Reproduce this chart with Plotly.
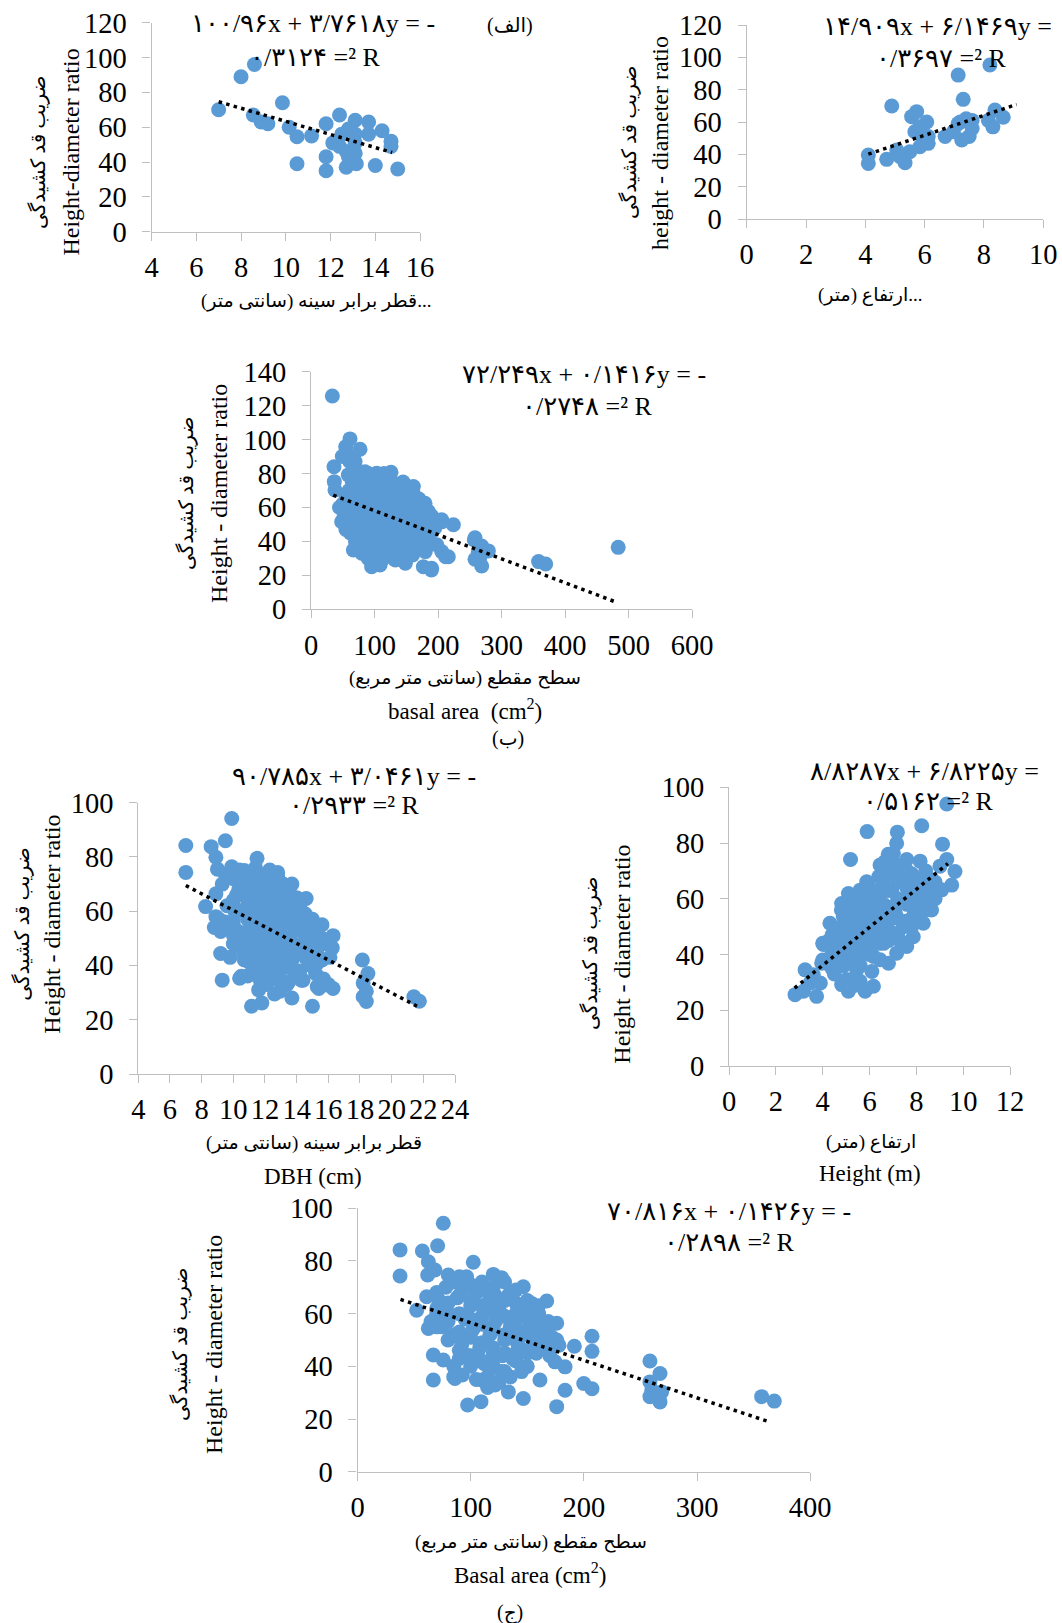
import plotly.graph_objects as go

W, H = 1062, 1623
FONT = "Liberation Serif, DejaVu Sans"
TICKFONT = "Liberation Serif"
BLUE = "#5B9BD5"
AXC = "#bfbfbf"

# ---------------- data ----------------
# (الف) DBH vs ratio
x1 = [7.0, 8.0, 8.6, 8.55, 8.9, 9.2, 9.85, 10.15, 10.5, 10.5,
      11.15, 11.8, 11.8, 11.8, 12.4, 12.1, 12.4, 12.7, 12.7, 13.1,
      13.1, 13.1, 13.15, 12.8, 13.7, 13.7, 14.0, 14.3, 14.7, 14.7,
      15.0, 12.8, 13.1, 12.5]
y1 = [70, 89, 96, 67, 63, 62, 74, 60, 54.5, 39,
      55, 62, 43, 35, 67, 51, 49, 46, 37, 64,
      56, 51, 39, 59, 63, 56, 38, 58, 52, 49,
      36, 43, 45, 56]
# (الف) height vs ratio
x2 = [4.1, 4.1, 4.72, 4.89, 5.06, 5.17, 5.34, 5.5, 5.56, 5.73,
      5.67, 5.84, 5.84, 6.07, 6.12, 6.12, 5.96, 6.69, 7.13, 7.3,
      7.2, 7.25, 7.4, 7.5, 7.6, 7.6, 8.2, 8.15, 8.3, 8.37,
      8.65, 6.97, 7.13]
y2 = [39.6, 34.4, 36.9, 69.9, 42.7, 38.6, 34.8, 41.6, 63.3, 66.4,
      54, 44.7, 57, 60, 51, 46.8, 48.9, 51, 89, 74,
      60, 48.9, 62, 51, 56, 61, 95.3, 61, 57, 67.4,
      62.9, 54, 59]
# (ب) basal area vs ratio: outer points
x3 = [33.6, 61.4, 54.6, 77.2, 49.3, 69.3, 36.2, 36.7, 37.8, 61.4,
      58.8, 48.3, 66.7, 95.5, 108.7, 103.4, 126, 161.2, 179.5, 184.8,
      205.8, 224.2, 190, 216.2, 205.8, 190, 176.9, 148.6, 132.9, 258.3,
      268.8, 258.3, 268.8, 279.3, 263.5, 66.7, 358.4, 369.6, 483.8, 257.2,
      265.6, 212.1, 189.6, 206.5,
      50, 55, 60, 62, 65, 68, 70, 72, 75, 78,
      80, 82, 85, 88, 90, 92, 95, 97, 100, 102,
      105, 108, 110, 112, 115, 118, 120, 122, 125, 128,
      130, 132, 135, 138, 140, 142, 145, 148, 150, 152,
      155, 158, 160, 162, 165, 168, 170, 172, 175, 178,
      180, 183, 186, 190, 195, 198, 90, 110, 130, 150,
      160, 75, 90, 145, 60, 70, 100, 160, 120, 140,
      55, 45]
y3 = [125.7, 100.4, 95.8, 94.3, 90, 87, 84, 75.2, 70.3, 87,
      79.2, 51.6, 34.9, 25.1, 26.1, 80.1, 80.7, 72.3, 62.5, 57.6,
      52.7, 49.8, 45.8, 31, 34, 24.2, 25.1, 27.1, 29.1, 42.2,
      37.3, 29.5, 25.5, 34.4, 33.4, 90, 28.1, 26.7, 36.5, 40.8,
      30, 31, 23.2, 51.6,
      62, 52, 70, 45, 58, 75, 40, 64, 50, 68,
      35, 58, 72, 44, 62, 52, 77, 38, 66, 56,
      46, 72, 60, 33, 50, 68, 42, 57, 75, 48,
      63, 36, 54, 70, 44, 60, 50, 67, 38, 56,
      46, 63, 52, 41, 58, 48, 65, 36, 54, 44,
      60, 50, 40, 55, 48, 38, 30, 28, 30, 30,
      34, 80, 80, 75, 88, 82, 73, 70, 35, 32,
      67, 60]
# (ب) dense core of the cloud
x3b = [80, 100, 120, 140, 160, 180,
       82, 95, 110, 125, 140, 155, 170, 185,
       55, 70, 85, 100, 115, 130, 145, 160, 175, 190,
       52, 65, 80, 95, 110, 125, 140, 155, 170, 185,
       55, 70, 85, 100, 115, 130, 145, 160, 175,
       60, 75, 90, 105, 120, 135, 150, 165,
       65, 80, 95, 110, 125, 140,
       70, 85, 115]
y3b = [33, 32, 34, 33, 32, 34,
       40, 41, 39, 40, 41, 39, 40, 41,
       47, 48, 46, 47, 48, 46, 47, 48, 47, 46,
       54, 55, 53, 54, 55, 53, 54, 55, 54, 53,
       61, 62, 60, 61, 62, 60, 61, 62, 60,
       68, 69, 67, 68, 69, 67, 68, 66,
       75, 76, 74, 75, 76, 74,
       82, 81, 80]
# (ج) DBH vs ratio: outer points
x4 = [7.0, 7.0, 8.6, 8.9, 9.5, 9.9, 8.25, 8.9, 8.9, 8.8,
      9.2, 9.8, 9.3, 10.4, 10.9, 11.15, 11.8, 11.5, 12.3, 12.8,
      13.7, 14.6, 15.0, 16.3, 16.25, 16.3, 15.0, 13.7, 12.95, 14.3,
      15.4, 18.15, 18.5, 18.2, 18.2, 18.4, 18.4, 21.4, 21.75, 9.0,
      9.5, 9.9, 10.4, 11.05, 10.85, 11.9, 10.85, 10.6, 9.8, 10.0,
      9.3, 9.6, 9.5, 10.2, 10.1, 10.2, 10.3, 10.6, 10.8, 10.9,
      11.0, 11.2, 11.2, 11.4, 11.5, 11.6, 11.7, 11.8, 11.9, 12.0,
      12.1, 12.2, 12.3, 12.4, 12.5, 12.6, 12.7, 12.8, 12.9, 13.0,
      13.1, 13.2, 13.3, 13.4, 13.5, 13.6, 13.7, 13.8, 13.9, 14.0,
      14.1, 14.2, 14.3, 14.4, 14.6, 14.8, 14.9, 15.0, 15.2, 15.3,
      15.5, 15.7, 15.8, 16.0, 16.1, 11.3, 12.2, 12.9, 13.5, 11.7,
      12.3, 14.4, 15.3, 15.9, 15.3, 14.8, 14.95, 10.5, 11.6, 12.6,
      13.3, 12.0, 11.1, 10.7, 13.1, 12.4, 14.0, 11.4, 10.5, 9.2,
      9.1]
y4 = [84.2, 74.3, 83.8, 79.9, 86, 94.2, 61.7, 66.4, 58, 54,
      44.4, 43, 34.6, 35.3, 36.1, 25, 26.2, 79.5, 75.2, 74.3,
      70, 64.7, 57, 51, 46.5, 31.5, 25, 28, 30.5, 34.6,
      31.5, 42, 37, 33.5, 28.5, 26.7, 30.5, 28.5, 26.8, 75.5,
      73.5, 76.4, 75.2, 74, 70.3, 72, 64.7, 60.4, 55.5, 51.2,
      70, 62, 56, 66, 60, 53, 47, 52, 47, 57,
      62, 44, 67, 50, 55, 40, 60, 64, 46, 70,
      52, 36, 57, 42, 62, 48, 66, 54, 38, 60,
      45, 68, 50, 33, 56, 63, 42, 48, 58, 38,
      53, 61, 46, 56, 50, 41, 54, 47, 37, 44,
      50, 35, 48, 33, 43, 72, 73, 71, 67, 34.6,
      34.6, 34.6, 32.2, 32.8, 40.8, 40.8, 54.3, 36, 31, 29.5,
      40, 44, 49, 42, 62, 67, 65, 58, 70, 52.5,
      57]
# (ج) DBH vs ratio: dense core
x4b = [10.0, 10.0, 10.0, 10.0,
       10.7, 10.7, 10.7, 10.7, 10.7,
       11.4, 11.4, 11.4, 11.4, 11.4, 11.4,
       12.1, 12.1, 12.1, 12.1, 12.1, 12.1,
       12.8, 12.8, 12.8, 12.8, 12.8, 12.8,
       13.5, 13.5, 13.5, 13.5, 13.5,
       14.2, 14.2, 14.2, 14.2,
       14.9, 14.9, 14.9,
       15.6, 15.6, 15.6,
       10.35, 10.35, 10.35,
       11.05, 11.05, 11.05, 11.05, 11.05,
       11.75, 11.75, 11.75, 11.75, 11.75, 11.75,
       12.45, 12.45, 12.45, 12.45, 12.45,
       13.15, 13.15, 13.15, 13.15, 13.15,
       13.85, 13.85, 13.85, 13.85,
       14.55, 14.55, 14.55,
       15.25, 15.25]
y4b = [48, 56, 64, 72,
       44, 52, 60, 68, 75,
       38, 46, 54, 62, 70, 76,
       33, 40, 48, 56, 64, 72,
       35, 43, 51, 59, 67, 73,
       34, 42, 50, 58, 65,
       38, 46, 54, 62,
       40, 48, 56,
       42, 50, 55,
       52, 60, 68,
       41, 49, 57, 65, 72,
       35, 43, 51, 59, 67, 73,
       37, 45, 53, 61, 69,
       39, 47, 55, 63, 70,
       38, 46, 54, 61,
       43, 51, 59,
       45, 53]
# (ج) height vs ratio: outer points
x5 = [9.3, 5.9, 7.19, 8.23, 9.12, 5.19, 7.16, 7.02, 6.66, 6.45,
      7.59, 8.16, 9.3, 9.65, 9.51, 9.08, 8.3, 7.59, 6.81, 6.1,
      6.17, 5.81, 5.1, 4.81, 3.74, 2.82, 3.18, 3.25, 4.03, 4.24,
      3.6, 3.96, 4.31, 4.74, 5.1, 5.38, 5.88, 5.6, 6.09, 6.45,
      5.95, 5.38, 4.88, 4.67, 5.17, 5.6, 5.45, 5.03, 5.6, 6.45,
      7.02, 6.88, 7.3, 7.73, 8.01, 8.44, 8.65, 7.87, 7.45, 7.3,
      7.8, 8.44, 6.59, 6.95, 6.45, 6.17, 5.81, 5.03, 4.81, 6.45,
      7.16, 7.87, 8.87, 8.51, 9.01, 4.31, 4.6, 6.17, 4.46, 3.9,
      3.46, 5.3, 5.6, 6.0, 6.3, 6.6, 6.8, 7.1, 7.3, 7.6,
      7.9, 8.1, 6.9, 7.5, 6.2, 5.8, 5.5, 4.9, 5.2, 5.9,
      6.6, 7.8, 8.6, 4.5, 5.4]
y5 = [94, 84.1, 83.9, 86.2, 79.6, 74.1, 79.9, 76.3, 73.3, 72.1,
      74.1, 73.5, 74.1, 69.8, 64.9, 63.2, 51.2, 42.9, 36.9, 33.9,
      28.6, 26.8, 26.8, 29.2, 25, 25.6, 26.8, 34.5, 43.6, 44.8,
      32.7, 36.9, 36.3, 41.9, 61.9, 57.2, 66.1, 63.1, 59, 56,
      48.8, 51.2, 53.6, 46.4, 44, 41.6, 34.5, 31, 30.4, 46.4,
      47.6, 53.6, 59.5, 63.1, 58.3, 59.5, 56, 53.6, 50, 67.8,
      69, 67.8, 65.5, 63.1, 63.1, 52.4, 53.6, 48.8, 58.3, 38.1,
      40.5, 46.4, 63.1, 64.3, 71.7, 51.2, 48.8, 39.3, 39.3, 29.8,
      29.8, 55, 47, 56, 50, 58, 49, 55, 45, 60,
      56, 62, 69, 66, 62, 60, 38, 36, 40, 43,
      44, 50, 67, 33, 29]
# (ج) height vs ratio: dense core
x5b = [4.0, 4.0,
       4.4, 4.4, 4.4,
       4.8, 4.8, 4.8, 4.8,
       5.2, 5.2, 5.2, 5.2, 5.2,
       5.6, 5.6, 5.6, 5.6, 5.6,
       6.0, 6.0, 6.0, 6.0, 6.0,
       6.4, 6.4, 6.4, 6.4, 6.4,
       6.8, 6.8, 6.8, 6.8, 6.8, 6.8,
       7.2, 7.2, 7.2, 7.2, 7.2,
       7.6, 7.6, 7.6, 7.6,
       8.0, 8.0, 8.0,
       8.4, 8.4, 8.4,
       8.8, 8.8]
y5b = [38, 44,
       35, 41, 47,
       38, 44, 50, 56,
       37, 43, 49, 55, 60,
       36, 44, 50, 56, 62,
       40, 46, 52, 58, 64,
       44, 50, 55, 61, 68,
       45, 52, 57, 63, 70, 76,
       47, 53, 60, 66, 72,
       52, 58, 64, 70,
       55, 61, 67,
       56, 63, 70,
       60, 66]
# (ج) basal area vs ratio: outer points
x6 = [75.8, 37.6, 37.6, 57.3, 70.8, 62.6, 62, 68.4, 80.2, 102.3,
      96.4, 120, 127.4, 146.5, 167.2, 52.3, 61.1, 62.6, 67, 75.8,
      67, 86.1, 92.6, 97.3, 109.1, 109.7, 121.5, 133.3, 145, 146.5,
      161.2, 174.5, 183.4, 183.4, 191.6, 199.9, 207.2, 207.2, 207.2, 176,
      146.5, 161.2, 168.6, 176, 176, 153.9, 133.3, 121.5, 112.7, 92,
      258.4, 267.3, 258.4, 258.4, 267.3, 260, 268.7, 357.1, 368.3,
      80, 85, 88, 92, 95, 98, 100, 102, 105, 108,
      110, 112, 115, 117, 120, 122, 125, 127, 130, 132,
      135, 137, 140, 142, 145, 148, 150, 152, 155, 158,
      160, 163, 165, 168, 170, 172, 178, 75, 70, 65,
      72, 78, 85, 95, 110, 118, 105, 115, 125, 135,
      140, 128, 100, 90]
y6 = [94.3, 84.2, 74.3, 83.8, 85.8, 79.7, 74.7, 76.6, 74.7, 79.5,
      74, 74.9, 73.6, 70.2, 64.8, 61.3, 66.4, 54.4, 44.3, 42.4,
      34.8, 35.4, 36.7, 25.3, 26.6, 34.8, 32.9, 30.3, 38, 27.8,
      34.8, 41.7, 39.8, 30.9, 47.6, 33.5, 51.4, 45.7, 31.5, 24.7,
      46.2, 46.8, 57, 56.4, 50, 63.9, 67, 67, 69.6, 70.8,
      42, 37.3, 34.1, 28.5, 26.5, 31, 30.3, 28.5, 26.8,
      60, 52, 66, 48, 58, 44, 63, 54, 68, 47,
      59, 41, 64, 52, 45, 57, 62, 38, 50, 66,
      55, 43, 60, 48, 53, 63, 40, 57, 50, 45,
      55, 52, 48, 53, 44, 51, 48, 55, 60, 57,
      65, 70, 72, 70, 72, 68, 35, 36, 34, 36,
      42, 44, 40, 43]
# (ج) basal area vs ratio: dense core
x6b = [70, 70, 70,
       80, 80, 80,
       90, 90, 90, 90, 90,
       100, 100, 100, 100, 100,
       110, 110, 110, 110, 110,
       120, 120, 120, 120, 120,
       130, 130, 130, 130, 130, 130,
       140, 140, 140, 140, 140,
       150, 150, 150, 150,
       160, 160, 160, 160,
       170, 170,
       85, 85,
       115]
y6b = [55, 62, 68,
       50, 57, 64,
       46, 53, 60, 67, 74,
       44, 51, 58, 65, 71,
       42, 49, 56, 63, 69,
       40, 47, 54, 61, 70,
       38, 45, 52, 59, 65, 72,
       45, 50, 57, 64, 69,
       45, 52, 59, 65,
       47, 54, 60, 63,
       49, 56,
       40, 36,
       32]

# trendline coefficients (slope, intercept) and x extent
coef = [(-3.7618, 100.96), (6.1469, 14.909), (-0.1416, 72.249),
        (-3.0461, 90.785), (6.8225, 8.8287), (-0.1426, 70.816)]
trend_span = [(7.0, 14.75), (4.1, 9.1), (35, 478), (7.0, 21.6), (2.8, 9.35), (38, 363)]

eq_line1 = ["۱۰۰/۹۶x + ۳/۷۶۱۸y = -", "۱۴/۹۰۹x + ۶/۱۴۶۹y =", "۷۲/۲۴۹x + ۰/۱۴۱۶y = -",
            "۹۰/۷۸۵x + ۳/۰۴۶۱y = -", "۸/۸۲۸۷x + ۶/۸۲۲۵y =", "۷۰/۸۱۶x + ۰/۱۴۲۶y = -"]
eq_line2 = ["۰/۳۱۲۴ =² R", "۰/۳۶۹۷ =² R", "۰/۲۷۴۸ =² R",
            "۰/۲۹۳۳ =² R", "۰/۵۱۶۲ =² R", "۰/۲۸۹۸ =² R"]
ytitle_fa = "ضریب قد کشیدگی"
ytitle_en = ["Height-diameter ratio", "height - diameter ratio", "Height - diameter ratio",
             "Height - diameter ratio", "Height - diameter ratio", "Height - diameter ratio"]
xtitle_fa = ["قطر برابر سینه (سانتی متر)...", "ارتفاع (متر)...", "سطح مقطع (سانتی متر مربع)",
             "قطر برابر سینه (سانتی متر)", "ارتفاع (متر)", "سطح مقطع (سانتی متر مربع)"]
xtitle_en = [None, None, "basal area  (cm<sup>2</sup>)", "DBH (cm)", "Height (m)", "Basal area (cm<sup>2</sup>)"]
panel_tags = ["(الف)", "(ب)", "(ج)"]

xs = [x1, x2, x3 + x3b, x4 + x4b, x5 + x5b, x6 + x6b]
ys = [y1, y2, y3 + y3b, y4 + y4b, y5 + y5b, y6 + y6b]

# ---------------- layout (pixels) ----------------
panels = [
    dict(xr=[4, 16], yr=[0, 120], dx=2, dy=20, px=(151.5, 420.1), py=(22.7, 231.7),
         eq1=(313, 23.5), eq2=(315, 57), xt=(316, 301), xte=None, yfa=37.9, yen=70.6, yc=152),
    dict(xr=[0, 10], yr=[0, 120], dx=2, dy=20, px=(746.7, 1043.3), py=(25, 219),
         eq1=(937, 27), eq2=(941, 59), xt=(870, 295), xte=None, yfa=630, yen=660, yc=143),
    dict(xr=[0, 600], yr=[0, 140], dx=100, dy=20, px=(311, 692), py=(371.7, 609.3),
         eq1=(584, 374), eq2=(587, 406), xt=(464.5, 678), xte=(464.5, 709), yfa=187, yen=219, yc=494),
    dict(xr=[4, 24], yr=[0, 100], dx=2, dy=20, px=(138.3, 455), py=(802.7, 1074),
         eq1=(354, 776), eq2=(354, 806), xt=(314, 1143), xte=(313, 1176), yfa=21.7, yen=51.7, yc=924),
    dict(xr=[0, 12], yr=[0, 100], dx=2, dy=20, px=(729, 1010), py=(787.3, 1066),
         eq1=(924, 771.5), eq2=(928, 802), xt=(871, 1142), xte=(869.5, 1173), yfa=590, yen=621.7, yc=954),
    dict(xr=[0, 400], yr=[0, 100], dx=100, dy=20, px=(357.5, 810.2), py=(1208.3, 1471.7),
         eq1=(728.5, 1211), eq2=(729.5, 1242.5), xt=(531, 1542), xte=(530, 1573), yfa=180, yen=214, yc=1345),
]
tag_pos = [(510, 25), (508, 738), (510, 1612)]


def px2x(v):
    return v / W


def px2y(v):
    return 1 - v / H


fig = go.Figure()
layout = dict(width=W, height=H, margin=dict(l=0, r=0, t=0, b=0, pad=0, autoexpand=False),
              paper_bgcolor="white", plot_bgcolor="white", showlegend=False,
              font=dict(family=FONT, color="black"))
annotations = []


def ann(text, pos, size, angle=0):
    annotations.append(dict(text=text, x=px2x(pos[0]), y=px2y(pos[1]), xref="paper",
                            yref="paper", xanchor="center", yanchor="middle",
                            showarrow=False, textangle=angle,
                            font=dict(family=FONT, size=size, color="black")))


for i, p in enumerate(panels):
    n = i + 1
    xa = "x" if n == 1 else f"x{n}"
    ya = "y" if n == 1 else f"y{n}"
    fig.add_trace(go.Scatter(x=xs[i], y=ys[i], mode="markers", xaxis=xa, yaxis=ya,
                             marker=dict(size=15, color=BLUE, line=dict(width=0)),
                             hoverinfo="skip"))
    a, b = coef[i]
    t0, t1 = trend_span[i]
    fig.add_trace(go.Scatter(x=[t0, t1], y=[a * t0 + b, a * t1 + b], mode="lines",
                             xaxis=xa, yaxis=ya,
                             line=dict(color="black", width=3.5, dash="3.5px,4.3px"),
                             hoverinfo="skip"))
    common = dict(showline=True, linecolor=AXC, linewidth=1.3, ticks="outside", ticklen=8,
                  tickwidth=1.3, tickcolor=AXC, showgrid=False, zeroline=False, fixedrange=True,
                  automargin=False,
                  tickfont=dict(family=TICKFONT, size=28.5, color="black"))
    layout["xaxis" if n == 1 else f"xaxis{n}"] = dict(
        domain=[px2x(p["px"][0]), px2x(p["px"][1])], range=p["xr"], dtick=p["dx"],
        tick0=p["xr"][0], anchor=ya, ticklabelstandoff=2, **common)
    layout["yaxis" if n == 1 else f"yaxis{n}"] = dict(
        domain=[px2y(p["py"][1]), px2y(p["py"][0])], range=p["yr"], dtick=p["dy"],
        tick0=0, anchor=xa, ticklabelstandoff=10, **common)

    ann(eq_line1[i], p["eq1"], 26)
    ann(eq_line2[i], p["eq2"], 26)
    ann(xtitle_fa[i], p["xt"], 19)
    if xtitle_en[i]:
        ann(xtitle_en[i], p["xte"], 23)
    ann(ytitle_fa, (p["yfa"], p["yc"]), 20, -90)
    ann(ytitle_en[i], (p["yen"], p["yc"]), 24, -90)

for t, pos in zip(panel_tags, tag_pos):
    ann(t, pos, 20)

layout["annotations"] = annotations
fig.update_layout(**layout)
fig.write_html("out.html", config={"displayModeBar": False},
               post_script="document.body.style.margin='0px';")
